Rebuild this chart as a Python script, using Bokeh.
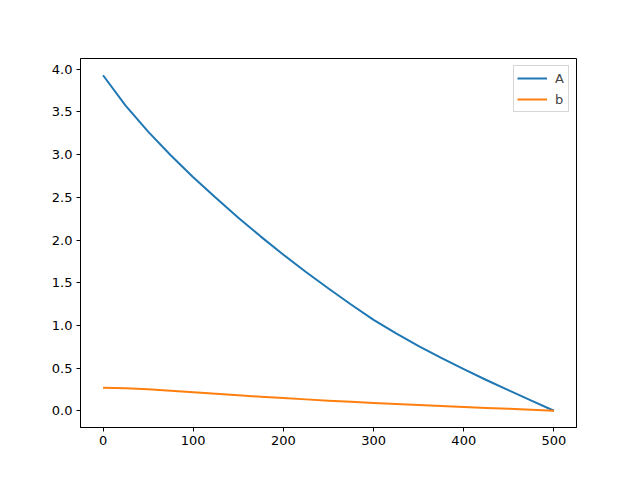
from bokeh.plotting import figure
from bokeh.models import Range1d, FixedTicker, PrintfTickFormatter, Legend, LegendItem
from bokeh.embed import file_html
from bokeh.resources import INLINE

x_vals = [0, 25, 50, 75, 100, 125, 150, 175, 200, 225, 250,
          275, 300, 325, 350, 375, 400, 425, 450, 475, 500]
a_vals = [3.93, 3.575, 3.27, 2.993, 2.736, 2.494, 2.262, 2.040, 1.828, 1.626, 1.432,
          1.245, 1.065, 0.905, 0.757, 0.618, 0.487, 0.36, 0.238, 0.118, 0.0]
b_vals = [0.268, 0.262, 0.251, 0.234, 0.216, 0.198, 0.181, 0.164, 0.148, 0.133, 0.118,
          0.104, 0.091, 0.078, 0.066, 0.055, 0.044, 0.033, 0.022, 0.011, 0.0]
x_ticks = [0, 100, 200, 300, 400, 500]
y_ticks = [0.0, 0.5, 1.0, 1.5, 2.0, 2.5, 3.0, 3.5, 4.0]

p = figure(width=624, height=464, output_backend="svg", toolbar_location=None,
           x_range=Range1d(-25, 525), y_range=Range1d(-0.1965, 4.1265))
p.min_border_left = 80
p.min_border_right = 48
p.min_border_top = 58
p.min_border_bottom = 37
p.xgrid.visible = False
p.ygrid.visible = False
p.outline_line_color = "black"
p.outline_line_width = 1
p.background_fill_color = "white"
p.border_fill_color = "white"

for ax in (p.xaxis[0], p.yaxis[0]):
    ax.axis_line_color = "black"
    ax.major_tick_line_color = "black"
    ax.major_tick_out = 4
    ax.major_tick_in = 0
    ax.minor_tick_line_color = None
    ax.major_label_text_font = "DejaVu Sans"
    ax.major_label_text_font_size = "13px"
    ax.major_label_text_color = "black"
    ax.major_label_standoff = 4

p.xaxis.ticker = FixedTicker(ticks=x_ticks)
p.yaxis.ticker = FixedTicker(ticks=y_ticks)
p.yaxis.formatter = PrintfTickFormatter(format="%.1f")

la = p.line(x_vals, a_vals, line_color="#1f77b4", line_width=2, line_join="round")
lb = p.line(x_vals, b_vals, line_color="#ff7f0e", line_width=2, line_join="round")

legend = Legend(items=[LegendItem(label="A", renderers=[la]),
                       LegendItem(label="b", renderers=[lb])],
                location="top_right")
legend.margin = 7
legend.padding = 3
legend.spacing = 3
legend.glyph_width = 30
legend.glyph_height = 18
legend.label_height = 18
legend.label_width = 10
legend.label_standoff = 8
legend.label_text_font = "DejaVu Sans"
legend.label_text_font_size = "13px"
legend.border_line_color = "#cccccc"
legend.border_line_alpha = 0.8
legend.background_fill_alpha = 0.8
p.add_layout(legend)

open("out.html", "w").write(file_html(p, INLINE))
